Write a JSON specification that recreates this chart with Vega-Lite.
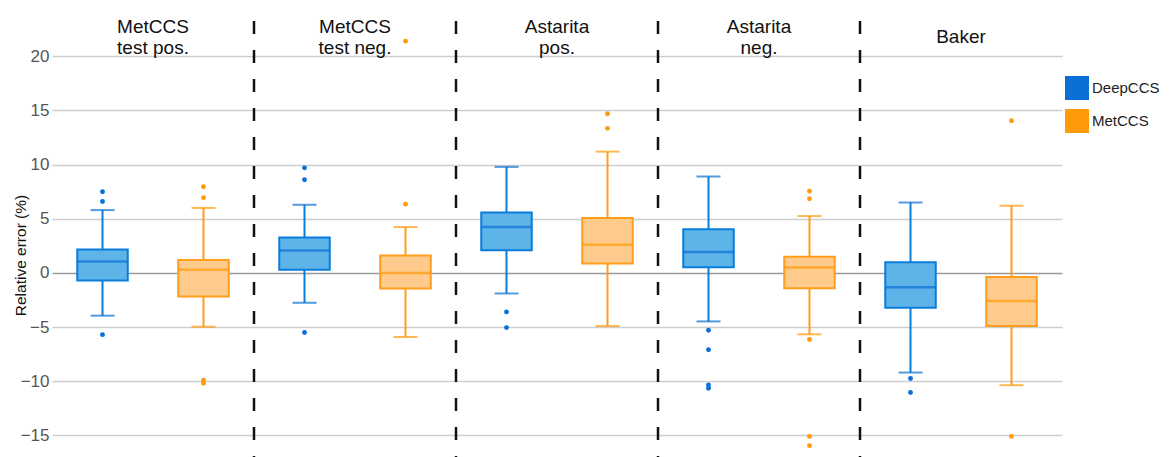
{
  "$schema": "https://vega.github.io/schema/vega-lite/v6.json",
  "width": 1010,
  "height": 444,
  "autosize": {"type": "none"},
  "padding": {"left": 52, "top": 13, "right": 107, "bottom": 0},
  "background": "white",
  "config": {
    "font": "Liberation Sans",
    "view": {"stroke": null},
    "legend": {
      "orient": "none",
      "legendX": 1013,
      "legendY": 63,
      "title": null,
      "symbolType": "square",
      "symbolSize": 576,
      "symbolStrokeWidth": 0,
      "symbolOpacity": 1,
      "labelFontSize": 15,
      "labelColor": "#222",
      "labelOffset": 3,
      "rowPadding": 9
    }
  },
  "datasets": {
    "boxes": [
      {"group": "MetCCS test pos.", "method": "DeepCCS", "lo": -3.95, "q1": -0.7, "med": 1.05, "q3": 2.15, "hi": 5.8},
      {"group": "MetCCS test pos.", "method": "MetCCS", "lo": -4.97, "q1": -2.18, "med": 0.3, "q3": 1.2, "hi": 6.0},
      {"group": "MetCCS test neg.", "method": "DeepCCS", "lo": -2.76, "q1": 0.28, "med": 2.06, "q3": 3.28, "hi": 6.29},
      {"group": "MetCCS test neg.", "method": "MetCCS", "lo": -5.92, "q1": -1.44, "med": 0.0, "q3": 1.6, "hi": 4.23},
      {"group": "Astarita pos.", "method": "DeepCCS", "lo": -1.9, "q1": 2.09, "med": 4.23, "q3": 5.58, "hi": 9.79},
      {"group": "Astarita pos.", "method": "MetCCS", "lo": -4.9, "q1": 0.86, "med": 2.6, "q3": 5.06, "hi": 11.2},
      {"group": "Astarita neg.", "method": "DeepCCS", "lo": -4.48, "q1": 0.52, "med": 1.93, "q3": 4.02, "hi": 8.9},
      {"group": "Astarita neg.", "method": "MetCCS", "lo": -5.67, "q1": -1.41, "med": 0.49, "q3": 1.5, "hi": 5.25},
      {"group": "Baker", "method": "DeepCCS", "lo": -9.2, "q1": -3.22, "med": -1.32, "q3": 0.98, "hi": 6.5},
      {"group": "Baker", "method": "MetCCS", "lo": -10.37, "q1": -4.9, "med": -2.6, "q3": -0.37, "hi": 6.2}
    ],
    "outliers": [
      {"group": "MetCCS test pos.", "method": "DeepCCS", "v": 7.5},
      {"group": "MetCCS test pos.", "method": "DeepCCS", "v": 6.6},
      {"group": "MetCCS test pos.", "method": "DeepCCS", "v": -5.7},
      {"group": "MetCCS test pos.", "method": "MetCCS", "v": 7.95},
      {"group": "MetCCS test pos.", "method": "MetCCS", "v": 6.95},
      {"group": "MetCCS test pos.", "method": "MetCCS", "v": -9.9},
      {"group": "MetCCS test pos.", "method": "MetCCS", "v": -10.2},
      {"group": "MetCCS test neg.", "method": "DeepCCS", "v": 9.7},
      {"group": "MetCCS test neg.", "method": "DeepCCS", "v": 8.6},
      {"group": "MetCCS test neg.", "method": "DeepCCS", "v": -5.5},
      {"group": "MetCCS test neg.", "method": "MetCCS", "v": 6.35},
      {"group": "MetCCS test neg.", "method": "MetCCS", "v": 21.4},
      {"group": "Astarita pos.", "method": "DeepCCS", "v": -3.6},
      {"group": "Astarita pos.", "method": "DeepCCS", "v": -5.05},
      {"group": "Astarita pos.", "method": "MetCCS", "v": 14.7},
      {"group": "Astarita pos.", "method": "MetCCS", "v": 13.35},
      {"group": "Astarita neg.", "method": "DeepCCS", "v": -5.3},
      {"group": "Astarita neg.", "method": "DeepCCS", "v": -7.1},
      {"group": "Astarita neg.", "method": "DeepCCS", "v": -10.35},
      {"group": "Astarita neg.", "method": "DeepCCS", "v": -10.65},
      {"group": "Astarita neg.", "method": "MetCCS", "v": 7.55},
      {"group": "Astarita neg.", "method": "MetCCS", "v": 6.85},
      {"group": "Astarita neg.", "method": "MetCCS", "v": -6.15},
      {"group": "Astarita neg.", "method": "MetCCS", "v": -15.1},
      {"group": "Astarita neg.", "method": "MetCCS", "v": -15.95},
      {"group": "Baker", "method": "DeepCCS", "v": -9.75},
      {"group": "Baker", "method": "DeepCCS", "v": -11.05},
      {"group": "Baker", "method": "MetCCS", "v": 14.05},
      {"group": "Baker", "method": "MetCCS", "v": -15.1}
    ],
    "groups": [
      {"group": "MetCCS test pos.", "label": "MetCCS\ntest pos.", "sep": false, "twoLine": true},
      {"group": "MetCCS test neg.", "label": "MetCCS\ntest neg.", "sep": true, "twoLine": true},
      {"group": "Astarita pos.", "label": "Astarita\npos.", "sep": true, "twoLine": true},
      {"group": "Astarita neg.", "label": "Astarita\nneg.", "sep": true, "twoLine": true},
      {"group": "Baker", "label": "Baker", "sep": true, "twoLine": false}
    ]
  },
  "layer": [
    {
      "data": {"name": "outliers"},
      "mark": {"type": "point", "filled": true, "size": 24, "opacity": 1},
      "encoding": {
        "x": {"field": "group", "type": "nominal", "sort": null, "scale": {"paddingInner": 0, "paddingOuter": 0}, "axis": null},
        "xOffset": {"field": "method", "type": "nominal", "scale": {"paddingInner": 0.5, "paddingOuter": 0.25}},
        "y": {"field": "v", "type": "quantitative"},
        "color": {
          "field": "method", "type": "nominal",
          "scale": {"domain": ["DeepCCS", "MetCCS"], "range": ["#0A70D4", "#FF9A0A"]},
          "legend": {"symbolType": "square", "symbolSize": 576, "symbolStrokeWidth": 0, "symbolOpacity": 1}
        }
      }
    },
    {
      "data": {"name": "boxes"},
      "mark": {"type": "rule", "strokeWidth": 2},
      "encoding": {
        "x": {"field": "group", "type": "nominal", "sort": null},
        "xOffset": {"field": "method", "type": "nominal"},
        "y": {"field": "q3", "type": "quantitative"},
        "y2": {"field": "hi"},
        "stroke": {"field": "method", "type": "nominal", "legend": null}
      }
    },
    {
      "data": {"name": "boxes"},
      "mark": {"type": "rule", "strokeWidth": 2},
      "encoding": {
        "x": {"field": "group", "type": "nominal", "sort": null},
        "xOffset": {"field": "method", "type": "nominal"},
        "y": {"field": "lo", "type": "quantitative"},
        "y2": {"field": "q1"},
        "stroke": {"field": "method", "type": "nominal", "legend": null}
      }
    },
    {
      "data": {"name": "boxes"},
      "mark": {"type": "bar", "strokeWidth": 2},
      "encoding": {
        "x": {"field": "group", "type": "nominal", "sort": null},
        "xOffset": {"field": "method", "type": "nominal"},
        "y": {
          "field": "q1", "type": "quantitative",
          "scale": {"domain": [-17, 24], "nice": false, "zero": false},
          "axis": {
            "title": "Relative error (%)",
            "values": [-15, -10, -5, 0, 5, 10, 15, 20],
            "domain": false, "ticks": false, "tickSize": 0,
            "labelPadding": 3, "labelFontSize": 17, "labelColor": "#555",
            "gridColor": {"condition": {"test": "datum.value === 0", "value": "#9a9a9a"}, "value": "#cdcdcd"},
            "gridWidth": 1.5,
            "titleFontSize": 15.5, "titleFontWeight": "normal", "titleColor": "#111",
            "titleX": -24, "titleY": 242
          }
        },
        "y2": {"field": "q3"},
        "fill": {"field": "method", "type": "nominal", "scale": {"domain": ["DeepCCS", "MetCCS"], "range": ["#5EB3E8", "#FFCB8C"]}, "legend": null},
        "stroke": {"field": "method", "type": "nominal", "scale": {"domain": ["DeepCCS", "MetCCS"], "range": ["#0A7DDB", "#FF9D1C"]}, "legend": null}
      }
    },
    {
      "data": {"name": "boxes"},
      "mark": {"type": "tick", "size": 50, "thickness": 2.5, "orient": "horizontal"},
      "encoding": {
        "x": {"field": "group", "type": "nominal", "sort": null},
        "xOffset": {"field": "method", "type": "nominal"},
        "y": {"field": "med", "type": "quantitative"},
        "color": {"field": "method", "type": "nominal"}
      }
    },
    {
      "data": {"name": "boxes"},
      "mark": {"type": "tick", "size": 24, "thickness": 2, "orient": "horizontal"},
      "encoding": {
        "x": {"field": "group", "type": "nominal", "sort": null},
        "xOffset": {"field": "method", "type": "nominal"},
        "y": {"field": "hi", "type": "quantitative"},
        "color": {"field": "method", "type": "nominal"}
      }
    },
    {
      "data": {"name": "boxes"},
      "mark": {"type": "tick", "size": 24, "thickness": 2, "orient": "horizontal"},
      "encoding": {
        "x": {"field": "group", "type": "nominal", "sort": null},
        "xOffset": {"field": "method", "type": "nominal"},
        "y": {"field": "lo", "type": "quantitative"},
        "color": {"field": "method", "type": "nominal"}
      }
    },
    {
      "data": {"name": "groups"},
      "transform": [{"filter": "datum.sep"}],
      "mark": {"type": "rule", "color": "#111", "strokeWidth": 2.5, "strokeDash": [13, 16], "strokeDashOffset": 21},
      "encoding": {
        "x": {"field": "group", "type": "nominal", "sort": null, "bandPosition": 0},
        "y": {"datum": 24},
        "y2": {"datum": -17}
      }
    },
    {
      "data": {"name": "groups"},
      "transform": [{"filter": "datum.twoLine"}],
      "mark": {"type": "text", "fontSize": 19, "lineBreak": "\n", "lineHeight": 21, "baseline": "middle", "align": "center", "color": "#111"},
      "encoding": {
        "x": {"field": "group", "type": "nominal", "sort": null},
        "y": {"datum": 22.75},
        "text": {"field": "label"}
      }
    },
    {
      "data": {"name": "groups"},
      "transform": [{"filter": "!datum.twoLine"}],
      "mark": {"type": "text", "fontSize": 19, "baseline": "middle", "align": "center", "color": "#111"},
      "encoding": {
        "x": {"field": "group", "type": "nominal", "sort": null},
        "y": {"datum": 21.74},
        "text": {"field": "label"}
      }
    }
  ]
}
